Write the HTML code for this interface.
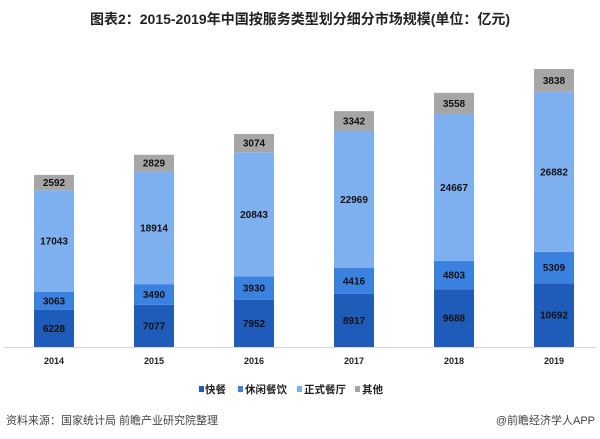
<!DOCTYPE html>
<html><head><meta charset="utf-8"><style>
body{margin:0;background:#fff;}
svg{display:block;font-family:"Liberation Sans","Noto Sans CJK SC",sans-serif;}
</style></head><body>
<svg id="c" width="600" height="439" xmlns="http://www.w3.org/2000/svg">
<rect width="600" height="439" fill="#fff"/>
<text x="300" y="24" text-anchor="middle" font-size="14" font-weight="bold" fill="#222">图表2：2015-2019年中国按服务类型划分细分市场规模(单位：亿元)</text>
<line x1="4" y1="347.5" x2="596" y2="347.5" stroke="#d9d9d9" stroke-width="1"/>
<g id="bars"></g>
<g font-size="10.5" font-weight="bold" fill="#222">
<rect x="199" y="386" width="5" height="6" fill="#1f5bb8"/><text x="205" y="393">快餐</text>
<rect x="238" y="386" width="5" height="6" fill="#3b82e0"/><text x="245" y="393">休闲餐饮</text>
<rect x="297" y="386" width="5" height="6" fill="#7eb0ef"/><text x="304" y="393">正式餐厅</text>
<rect x="355" y="386" width="5" height="6" fill="#a6a6a6"/><text x="362" y="393">其他</text>
</g>
<text x="6" y="424" font-size="11" fill="#444">资料来源：国家统计局  前瞻产业研究院整理</text>
<text x="595" y="424" font-size="11" fill="#444" text-anchor="end">@前瞻经济学人APP</text>
</svg>
<script>
var d=[[2014,6228,3063,17043,2592],[2015,7077,3490,18914,2829],[2016,7952,3930,20843,3074],[2017,8917,4416,22969,3342],[2018,9688,4803,24667,3558],[2019,10692,5309,26882,3838]];
var col=["#1f5bb8","#3b82e0","#7eb0ef","#a6a6a6"];
var s=278/46721,b=347,h="";
d.forEach(function(r,i){var cx=54+100*i,y=b;
for(var k=1;k<5;k++){var hh=r[k]*s;y-=hh;
h+='<rect x="'+(cx-20)+'" y="'+y.toFixed(2)+'" width="40" height="'+hh.toFixed(2)+'" fill="'+col[k-1]+'"/>';
h+='<text x="'+cx+'" y="'+(y+hh/2+3.5).toFixed(2)+'" text-anchor="middle" font-size="10" font-weight="bold" fill="#111">'+r[k]+'</text>';}
h+='<text x="'+cx+'" y="364" text-anchor="middle" font-size="9" font-weight="bold" fill="#222">'+r[0]+'</text>';});
document.getElementById("bars").innerHTML=h;
</script>
</body></html>
